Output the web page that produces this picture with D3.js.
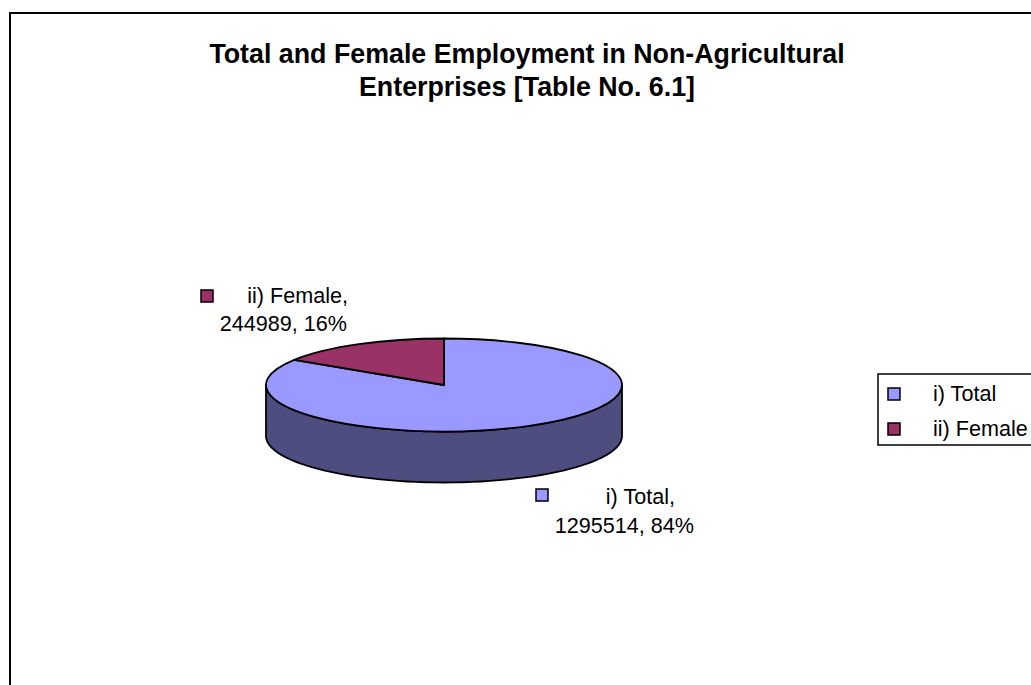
<!DOCTYPE html>
<html><head><meta charset="utf-8">
<script src="https://cdn.jsdelivr.net/npm/d3@7"></script>
<style>html,body{margin:0;padding:0;background:#fff;overflow:hidden}svg{display:block;font-family:"Liberation Sans",Arial,sans-serif}</style>
</head><body><svg id="c" width="1031" height="685"></svg>
<script>
const categories = ["i) Total", "ii) Female"];
const values = [1295514, 244989];
const percents = ["84%", "16%"];
const colors = ["#9999ff", "#993366"];
const titleLines = ["Total and Female Employment in Non-Agricultural", "Enterprises [Table No. 6.1]"];

const svg = d3.select("#c");
const W = 1031, H = 685;
svg.append("rect").attr("x",10).attr("y",13).attr("width",W+20).attr("height",H+20)
  .attr("fill","#fff").attr("stroke","#000").attr("stroke-width",2);

svg.append("g").selectAll("text").data(titleLines).join("text")
  .attr("x",527).attr("y",(d,i)=>63+i*33).attr("text-anchor","middle")
  .attr("font-size",26.8).attr("font-weight","bold").attr("fill","#000").text(d=>d);

const cx=444, cy=385, rx=178, ry=46.5, depth=51;
const pie = d3.pie().sort(null).value(d=>d);
const arcs = pie(values);
const xs = a => cx + rx*Math.sin(a);
const ys = a => cy - ry*Math.cos(a);

const front = d3.range(0,181,3).map(d=>d*Math.PI/180+Math.PI/2);
const wall = d3.line()(
  front.map(a=>[xs(a),ys(a)]).concat(front.slice().reverse().map(a=>[xs(a),ys(a)+depth]))
);
svg.append("path").attr("d",wall+"Z").attr("fill","#4d4d80").attr("stroke","#000")
  .attr("stroke-width",1.8).attr("stroke-linejoin","round");

const arc = d3.arc().innerRadius(0).outerRadius(rx);
svg.append("g").attr("transform",`translate(${cx},${cy}) scale(1,${ry/rx})`)
  .selectAll("path").data(arcs).join("path")
  .attr("d",arc).attr("fill",(d,i)=>colors[i]).attr("stroke","#000")
  .attr("stroke-width",1.8).attr("stroke-linejoin","round").attr("vector-effect","non-scaling-stroke");

const fs=21.6;
const labelSpec = [
  {i:0, key:[542,495], x1:675, y1:504, x2:694, y2:533},
  {i:1, key:[207,296], x1:348, y1:303, x2:347, y2:331}
];
labelSpec.forEach(s=>{
  const i=s.i;
  svg.append("rect").attr("x",s.key[0]-6).attr("y",s.key[1]-6).attr("width",12).attr("height",12)
    .attr("fill",colors[i]).attr("stroke","#000").attr("stroke-width",1.5);
  svg.append("text").attr("x",s.x1).attr("y",s.y1).attr("text-anchor","end")
    .attr("font-size",fs).text(categories[i]+",");
  svg.append("text").attr("x",s.x2).attr("y",s.y2).attr("text-anchor","end")
    .attr("font-size",fs).text(values[i]+", "+percents[i]);
});

const lg = svg.append("g");
lg.append("rect").attr("x",878).attr("y",374).attr("width",180).attr("height",71)
  .attr("fill","#fff").attr("stroke","#000").attr("stroke-width",1.5);
categories.forEach((c,i)=>{
  const y=394+i*35;
  lg.append("rect").attr("x",888).attr("y",y-6).attr("width",12).attr("height",12)
    .attr("fill",colors[i]).attr("stroke","#000").attr("stroke-width",1.5);
  lg.append("text").attr("x",933).attr("y",y+7).attr("font-size",fs).text(c);
});
</script></body></html>
